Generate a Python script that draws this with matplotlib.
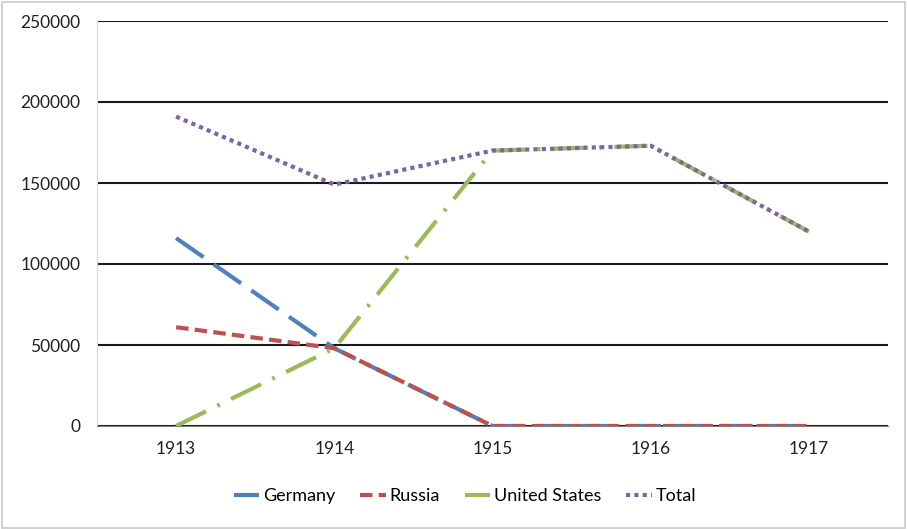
import numpy as np
import matplotlib
matplotlib.use("Agg")
import matplotlib.pyplot as plt

years = ["1913", "1914", "1915", "1916", "1917"]
germany = [116000, 48000, 0, 0, 0]
russia = [61000, 48000, 0, 0, 0]
united_states = [0, 48000, 170000, 173000, 120000]
total = [191000, 149000, 170000, 173000, 120000]

plt.rcParams["font.family"] = ["Lato", "DejaVu Sans"]

fig = plt.figure(figsize=(9.07, 5.29), dpi=100)
# light gray outer border like the source chart frame
fig.patches.append(plt.Rectangle((0.002, 0.002), 0.996, 0.994, transform=fig.transFigure,
                                 fill=False, edgecolor="#c8c8c8", lw=1.2))
ax = fig.add_axes([97 / 907, 1 - 426 / 529, 791 / 907, 405 / 529])

x = np.arange(len(years))
lw = 3.0
ax.plot(x, germany, color="#4f81bd", lw=lw, dashes=(8, 3), label="Germany")
ax.plot(x, russia, color="#c0504d", lw=lw, dashes=(3, 1.5), label="Russia")
ax.plot(x, united_states, color="#9bbb59", lw=lw, dashes=(8, 3, 0.7, 3), label="United States")
ax.plot(x, total, color="#8064a2", lw=lw, dashes=(1, 1), label="Total")

ax.set_xlim(-0.5, len(years) - 0.5)
ax.set_ylim(0, 250000)
ax.set_yticks(np.arange(0, 250001, 50000))
ax.set_xticks(x)
ax.set_xticklabels(years)
ax.grid(axis="y", color="#1a1a1a", lw=1.5)
ax.set_axisbelow(True)
for side in ["top", "right"]:
    ax.spines[side].set_visible(False)
ax.spines["left"].set_color("#d9d9d9")
ax.spines["bottom"].set_color("#7f7f7f")
ax.tick_params(length=0, labelsize=12.5, colors="#222222")
ax.tick_params(axis="x", pad=11)
ax.tick_params(axis="y", pad=12)

leg = fig.legend(*ax.get_legend_handles_labels(), loc="center",
                 bbox_to_anchor=(465 / 907, 1 - 496 / 529), ncol=4, frameon=False,
                 fontsize=13, handlelength=1.4, handletextpad=0.2, columnspacing=1.4)
for h in leg.get_lines():
    h.set_linewidth(3)

fig.savefig("out.png", dpi=100)
